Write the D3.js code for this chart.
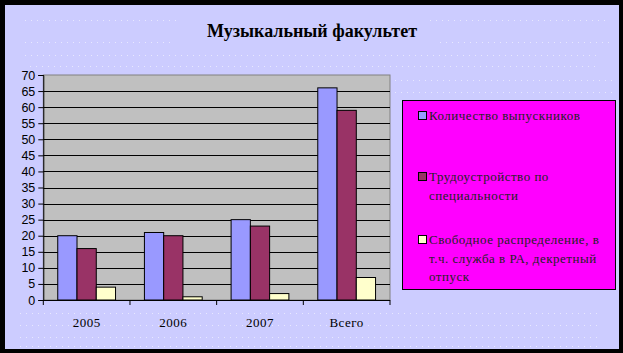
<!DOCTYPE html>
<html><head><meta charset="utf-8">
<script src="https://cdn.jsdelivr.net/npm/d3@7/dist/d3.min.js"></script>
<style>body{margin:0;background:#000;}svg{display:block;}</style>
</head><body>
<svg id="c" width="623" height="353"></svg>
<script>
const title = "Музыкальный факультет";
const categories = ["2005", "2006", "2007", "Всего"];
const seriesNames = [
  ["Количество выпускников"],
  ["Трудоустройство по", "специальности"],
  ["Свободное распределение, в", "т.ч. служба в РА, декретный", "отпуск"]
];
const graduates = [20, 21, 25, 66];
const employed = [16, 20, 23, 59];
const freeDist = [4, 1, 2, 7];
const yTicks = [0,5,10,15,20,25,30,35,40,45,50,55,60,65,70];
const colors = ["#9999FF", "#993366", "#FFFFCC"];

const series = [graduates, employed, freeDist];
const svg = d3.select("#c");
svg.append("rect").attr("x",0).attr("y",0).attr("width",623).attr("height",353).attr("fill","#000");
svg.append("rect").attr("x",5).attr("y",5).attr("width",614).attr("height",344).attr("fill","#CCCCFF");

// faint dotted background texture
const dots = svg.append("g").attr("stroke","#E8E8FF").attr("stroke-width",1).attr("stroke-dasharray","1,5");
[[25,180,20],[430,610,20],[25,170,42],[440,610,42],[25,600,55],[30,600,66],[395,615,80],[395,615,92],
 [20,600,313],[20,600,325],[20,600,337],[20,600,346]].forEach(([a,b,yy])=>{
  dots.append("line").attr("x1",a).attr("x2",b).attr("y1",yy+0.5).attr("y2",yy+0.5);
});

svg.append("text").attr("x",312).attr("y",37).attr("text-anchor","middle")
  .attr("font-family","Liberation Serif").attr("font-weight","bold").attr("font-size",18)
  .attr("fill","#000").text(title);

const L=43.3, R=390, T=75, B=300;
const x = d3.scaleBand().domain(categories).range([L,R]).paddingInner(0).paddingOuter(0);
const y = d3.scaleLinear().domain([0,70]).range([B,T]);
const bw = x.bandwidth()/4.5;

svg.append("rect").attr("x",L).attr("y",T).attr("width",R-L).attr("height",B-T)
  .attr("fill","#C0C0C0").attr("stroke","#808080").attr("stroke-width",1);

svg.append("g").selectAll("line").data(yTicks.filter(d=>d>0 && d<70)).join("line")
  .attr("x1",L).attr("x2",R).attr("y1",d=>Math.round(y(d))+0.5).attr("y2",d=>Math.round(y(d))+0.5)
  .attr("stroke","#000").attr("stroke-width",1);

categories.forEach((c,i)=>{
  series.forEach((s,j)=>{
    svg.append("rect")
      .attr("x", x(c) + bw*0.75 + j*bw)
      .attr("y", y(s[i]))
      .attr("width", bw)
      .attr("height", B - y(s[i]))
      .attr("fill", colors[j]).attr("stroke","#000").attr("stroke-width",1);
  });
});

const yAxis = svg.append("g").attr("transform",`translate(${L},0)`)
  .call(d3.axisLeft(y).tickValues(yTicks).tickSize(5).tickPadding(3));
yAxis.select(".domain").attr("stroke","#000");
yAxis.selectAll("text").attr("font-family","Liberation Sans Narrow, Liberation Sans").attr("font-size",12.5).attr("fill","#000");
yAxis.selectAll("line").attr("stroke","#000");

const xAxis = svg.append("g").attr("transform",`translate(0,${B})`);
xAxis.append("line").attr("x1",L).attr("x2",R).attr("y1",0.5).attr("y2",0.5).attr("stroke","#000");
const edges = categories.map(c=>x(c)).concat([R]);
xAxis.selectAll("line.t").data(edges).join("line").attr("class","t")
  .attr("x1",d=>d).attr("x2",d=>d).attr("y1",0).attr("y2",5).attr("stroke","#000");
xAxis.selectAll("text").data(categories).join("text")
  .attr("x",d=>x(d)+x.bandwidth()/2).attr("y",27).attr("text-anchor","middle")
  .attr("font-family","Liberation Serif").attr("font-size",13).attr("letter-spacing",0.5)
  .attr("fill","#000").text(d=>d);

// legend
svg.append("rect").attr("x",402.5).attr("y",100.5).attr("width",213).attr("height",189)
  .attr("fill","#FF00FF").attr("stroke","#000").attr("stroke-width",1);
const itemY = [116, 177, 240];
seriesNames.forEach((lines,j)=>{
  svg.append("rect").attr("x",418.5).attr("y",itemY[j]-4.5).attr("width",8).attr("height",8)
    .attr("fill",colors[j]).attr("stroke","#000").attr("stroke-width",1);
  lines.forEach((ln,k)=>{
    svg.append("text").attr("x",429).attr("y",itemY[j]+4+k*18.5)
      .attr("font-family","Liberation Serif").attr("font-size",13).attr("letter-spacing",0.5)
      .attr("fill","#222").text(ln);
  });
});
</script>
</body></html>
